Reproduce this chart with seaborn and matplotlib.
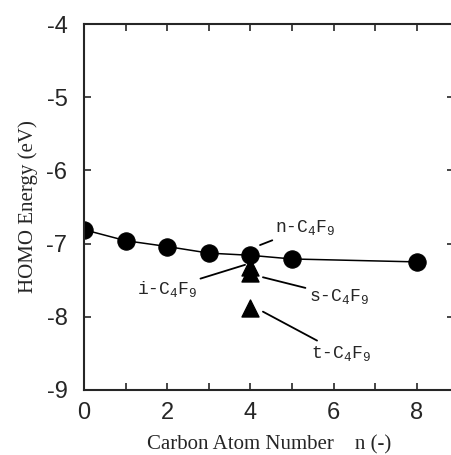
import pandas as pd
import seaborn as sns
import matplotlib.pyplot as plt

# data
carbon_n = [0, 1, 2, 3, 4, 5, 8]
homo_linear = [-6.81, -6.96, -7.04, -7.13, -7.16, -7.21, -7.25]

isomer_n = [4, 4, 4]
homo_isomer = [-7.32, -7.40, -7.88]

labels = [r'n-C$_4$F$_9$', r'i-C$_4$F$_9$', r's-C$_4$F$_9$', r't-C$_4$F$_9$']

sns.set_style("ticks")
plt.rcParams['font.family'] = ['Liberation Sans', 'DejaVu Sans']
plt.rcParams['axes.unicode_minus'] = False
plt.rcParams['mathtext.fontset'] = 'custom'
plt.rcParams['mathtext.rm'] = 'Liberation Mono'

df_lin = pd.DataFrame({'n': carbon_n, 'E': homo_linear})
df_iso = pd.DataFrame({'n': isomer_n, 'E': homo_isomer})

fig = plt.figure(figsize=(4.52, 4.55), dpi=100)
ax = fig.add_axes([0.186, 0.143, 0.819, 0.804])

sns.lineplot(data=df_lin, x='n', y='E', ax=ax, color='black', lw=1.1,
             marker='o', markersize=12.5, markeredgecolor='black',
             markerfacecolor='black')
sns.scatterplot(data=df_iso, x='n', y='E', ax=ax, color='black',
                marker='^', s=150, edgecolor='black', zorder=4)

ax.set_xlim(0, 8.9)
ax.set_ylim(-9, -4)
ax.set_xticks([0, 2, 4, 6, 8])
ax.set_xticks(range(1, 9), minor=True)
ax.set_yticks([-9, -8, -7, -6, -5, -4])
ax.tick_params(which='both', direction='in', top=True, right=True,
               labelsize=17, width=1.2)
ax.tick_params(which='major', length=5)
ax.tick_params(which='minor', length=5)
ax.tick_params(axis='y', pad=12)
ax.tick_params(axis='x', pad=9)
for s in ax.spines.values():
    s.set_linewidth(1.5)

ax.set_xlabel('Carbon Atom Number    n (-)', family='Liberation Serif',
              fontsize=15, labelpad=8)
ax.set_ylabel('HOMO Energy (eV)', family='Liberation Serif',
              fontsize=15, labelpad=6)

txt = dict(fontsize=13, family='Liberation Mono')
arrow = dict(arrowstyle='-', color='black', lw=1.3, shrinkA=0, shrinkB=0)
ax.annotate(labels[0], xy=(4.23, -7.02), xytext=(4.59, -6.91),
            va='bottom', ha='left', arrowprops=arrow, **txt)
ax.annotate(labels[1], xy=(3.87, -7.29), xytext=(2.72, -7.62),
            va='center', ha='right', arrowprops=arrow, **txt)
ax.annotate(labels[2], xy=(4.30, -7.46), xytext=(5.40, -7.72),
            va='center', ha='left', arrowprops=arrow, **txt)
ax.annotate(labels[3], xy=(4.30, -7.93), xytext=(5.45, -8.50),
            va='center', ha='left', arrowprops=arrow, **txt)

fig.savefig('out.png', dpi=100)
